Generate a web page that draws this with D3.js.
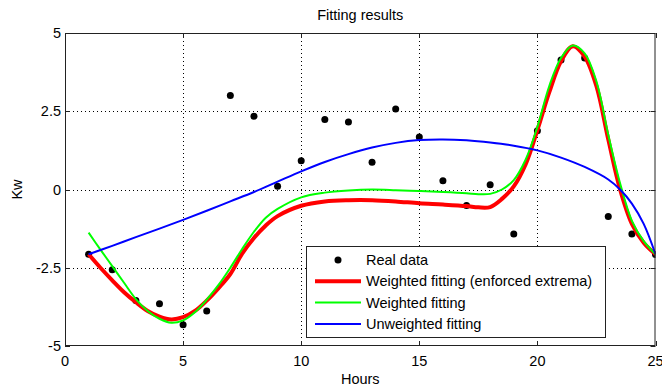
<!DOCTYPE html>
<html>
<head>
<meta charset="utf-8">
<script src="https://cdn.jsdelivr.net/npm/d3@7"></script>
<style>
  body { margin: 0; background: #fff; }
  svg text { font-family: "Liberation Sans", Arial, sans-serif; fill: #000; font-size: 14.5px; }
  .grid { stroke: #000; stroke-width: 1; stroke-dasharray: 1,3; }
</style>
</head>
<body>
<svg id="chart"></svg>
<script>
// real data, hourly
const hours = d3.range(1, 26)
const realData = [-2.07, -2.56, -3.55, -3.65, -4.32, -3.88, 3.0, 2.34, 0.1, 0.92,
  2.24, 2.16, 0.87, 2.57, 1.68, 0.28, -0.51, 0.15, -1.42, 1.88,
  4.14, 4.2, -0.86, -1.42, -2.08]

// fitted curves
const fitHours = [1, 1.5, 2, 2.5, 3, 3.5, 4, 4.5, 5, 5.5, 6, 6.5, 7, 7.5, 8, 8.5, 9, 10, 11, 12, 13, 14, 15, 16, 17,
  17.5, 18, 18.5, 19, 19.5, 20, 20.5, 21, 21.5, 22, 22.5, 23, 23.5, 24, 24.5, 25]
const redFit = [-2.07, -2.5, -2.9, -3.28, -3.6, -3.88, -4.06, -4.15, -4.08, -3.88, -3.55, -3.15, -2.7, -2.05, -1.55, -1.15, -0.85, -0.52, -0.38, -0.34, -0.34, -0.38, -0.44, -0.48, -0.53,
  -0.57, -0.56, -0.3, 0.1, 0.8, 1.9, 3.1, 4.1, 4.58, 4.25, 3.3, 1.6, 0.0, -1.1, -1.7, -2.07]
const greenFit = [-1.38, -1.92, -2.45, -2.98, -3.5, -3.88, -4.13, -4.26, -4.18, -3.92, -3.52, -3.05, -2.5, -1.9, -1.35, -0.9, -0.62, -0.25, -0.1, -0.03, 0.0, -0.02, -0.05, -0.08, -0.12,
  -0.15, -0.14, 0.0, 0.3, 0.95, 2.0, 3.3, 4.2, 4.6, 4.35, 3.45, 1.75, 0.2, -1.0, -1.65, -2.07]
const blueHours = [1, 2, 3, 4, 5, 6, 7, 8, 9, 10, 11, 12, 13, 14, 15, 16, 17, 18, 19, 20, 21, 22, 23, 23.5, 24, 24.5, 25]
const blueFit = [-2.07, -1.8, -1.52, -1.25, -0.97, -0.68, -0.38, -0.08, 0.25, 0.58, 0.88, 1.13, 1.34, 1.49, 1.58, 1.6, 1.57, 1.5, 1.4, 1.25, 1.02, 0.72, 0.32, 0.0, -0.45, -1.1, -2.07]

const xTicks = [0, 5, 10, 15, 20, 25]
const yTicks = [-5, -2.5, 0, 2.5, 5]
const legendLabels = ["Real data", "Weighted fitting (enforced extrema)", "Weighted fitting", "Unweighted fitting"]

const width = 662
const height = 387
const m = { left: 65, right: 6.5, top: 33, bottom: 41 }

const svg = d3.select("#chart")
  .attr("width", width)
  .attr("height", height)

const x = d3.scaleLinear().domain([0, 25]).range([m.left, width - m.right])
const y = d3.scaleLinear().domain([-5, 5]).range([height - m.bottom, m.top])

const x0 = x.range()[0], x1 = x.range()[1]
const y0 = y.range()[1], y1 = y.range()[0]

// grid lines (inner ticks only)
svg.selectAll(".gx")
  .data(xTicks.slice(1, -1))
  .enter().append("line")
  .attr("class", "grid")
  .attr("x1", d => Math.round(x(d)) + 0.5).attr("x2", d => Math.round(x(d)) + 0.5)
  .attr("y1", y0).attr("y2", y1)

svg.selectAll(".gy")
  .data(yTicks.slice(1, -1))
  .enter().append("line")
  .attr("class", "grid")
  .attr("y1", d => Math.round(y(d)) + 0.5).attr("y2", d => Math.round(y(d)) + 0.5)
  .attr("x1", x0).attr("x2", x1)

// matlab style inward ticks on all four sides
const tickLen = 5
xTicks.forEach(function(t){
  const px = Math.round(x(t)) + 0.5
  svg.append("line").attr("x1", px).attr("x2", px).attr("y1", y1).attr("y2", y1 - tickLen).attr("stroke", "#222")
  svg.append("line").attr("x1", px).attr("x2", px).attr("y1", y0).attr("y2", y0 + tickLen).attr("stroke", "#222")
})
yTicks.forEach(function(t){
  const py = Math.round(y(t)) + 0.5
  svg.append("line").attr("x1", x0).attr("x2", x0 + tickLen).attr("y1", py).attr("y2", py).attr("stroke", "#222")
  svg.append("line").attr("x1", x1).attr("x2", x1 - tickLen).attr("y1", py).attr("y2", py).attr("stroke", "#222")
})

// tick labels
svg.selectAll(".xl")
  .data(xTicks)
  .enter().append("text")
  .attr("x", d => x(d))
  .attr("y", y1 + 20)
  .attr("text-anchor", "middle")
  .text(d => d)

svg.selectAll(".yl")
  .data(yTicks)
  .enter().append("text")
  .attr("x", x0 - 4)
  .attr("y", d => y(d) + 5)
  .attr("text-anchor", "end")
  .text(d => d)

// plotting area
const clipId = "plotclip"
svg.append("clipPath").attr("id", clipId)
  .append("rect").attr("x", x0).attr("y", y0).attr("width", x1 - x0).attr("height", y1 - y0)

const plot = svg.append("g").attr("clip-path", "url(#" + clipId + ")")

plot.selectAll(".pt")
  .data(hours)
  .enter().append("circle")
  .attr("cx", d => x(d))
  .attr("cy", (d, i) => y(realData[i]))
  .attr("r", 3.5)
  .attr("fill", "#000")

const line = d3.line()
  .x(d => x(d[0]))
  .y(d => y(d[1]))
  .curve(d3.curveCatmullRom.alpha(0.5))

plot.append("path")
  .datum(fitHours.map((h, i) => [h, redFit[i]]))
  .attr("d", line)
  .attr("fill", "none").attr("stroke", "#ff0000").attr("stroke-width", 4)

plot.append("path")
  .datum(fitHours.map((h, i) => [h, greenFit[i]]))
  .attr("d", line)
  .attr("fill", "none").attr("stroke", "#00ff00").attr("stroke-width", 2)

plot.append("path")
  .datum(blueHours.map((h, i) => [h, blueFit[i]]))
  .attr("d", line)
  .attr("fill", "none").attr("stroke", "#0000ff").attr("stroke-width", 2)

// axes box
svg.append("rect")
  .attr("x", x0 + 0.5).attr("y", y0 + 0.5)
  .attr("width", x1 - x0 - 1).attr("height", y1 - y0 - 1)
  .attr("fill", "none").attr("stroke", "#222")

// titles
svg.append("text")
  .attr("x", (x0 + x1) / 2).attr("y", 20)
  .attr("text-anchor", "middle")
  .text("Fitting results")

svg.append("text")
  .attr("x", (x0 + x1) / 2).attr("y", 384)
  .attr("text-anchor", "middle")
  .text("Hours")

svg.append("text")
  .attr("transform", "translate(22," + ((y0 + y1) / 2) + ") rotate(-90)")
  .attr("text-anchor", "middle")
  .text("Kw")

// legend
const lg = svg.append("g").attr("transform", "translate(306,246)")
lg.append("rect")
  .attr("x", 0.5).attr("y", 0.5).attr("width", 299).attr("height", 91)
  .attr("fill", "#fff").attr("stroke", "#222")

const legendColors = [null, "#ff0000", "#00ff00", "#0000ff"]
const legendWidths = [0, 4, 2, 2]
legendLabels.forEach(function(lab, i){
  const ly = 14 + i * 21.3
  if (i == 0) {
    lg.append("circle").attr("cx", 32).attr("cy", ly).attr("r", 3.5).attr("fill", "#000")
  } else {
    lg.append("line")
      .attr("x1", 9).attr("x2", 55).attr("y1", ly).attr("y2", ly)
      .attr("stroke", legendColors[i]).attr("stroke-width", legendWidths[i])
  }
  lg.append("text")
    .attr("x", 60).attr("y", ly + 5)
    .text(lab)
})
</script>
</body>
</html>
